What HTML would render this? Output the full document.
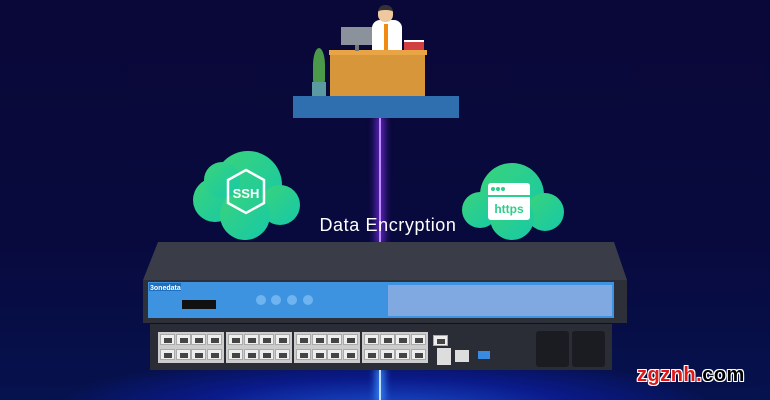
<!DOCTYPE html>
<html><head><meta charset="utf-8"><style>
*{margin:0;padding:0;box-sizing:border-box}
body{width:770px;height:400px;overflow:hidden;position:relative;font-family:"Liberation Sans",sans-serif;
background:radial-gradient(ellipse 420px 70px at 385px 410px,#1a4fd0 0%,#0a1a8a 45%,transparent 80%),linear-gradient(#0a0838 0%,#080a3e 60%,#06124e 100%)}
.a{position:absolute}
.port{position:absolute;width:15px;height:11px;background:#eee;border:1px solid #aaa}
.port::after{content:"";position:absolute;left:3px;top:3px;width:8px;height:5px;background:#444}
</style></head><body>
<div class="a" style="left:379px;top:118px;width:2px;height:124px;background:#c28cff;box-shadow:0 0 8px 3px #6a2ad0"></div>
<div class="a" style="left:379px;top:370px;width:2px;height:30px;background:#bfe0ff;box-shadow:0 0 8px 3px #3a8aff"></div>
<div class="a" style="left:293px;top:96px;width:166px;height:22px;background:#2f6fb0"></div>
<div class="a" style="left:330px;top:52px;width:95px;height:44px;background:#d8963a"></div>
<div class="a" style="left:329px;top:50px;width:98px;height:5px;background:#e9a445"></div>
<div class="a" style="left:341px;top:27px;width:31px;height:18px;background:#8c929c"></div>
<div class="a" style="left:355px;top:45px;width:4px;height:6px;background:#777"></div>
<div class="a" style="left:372px;top:20px;width:30px;height:30px;background:#fff;border-radius:8px 8px 0 0"></div>
<div class="a" style="left:384px;top:24px;width:4px;height:26px;background:#f08a10"></div>
<div class="a" style="left:378px;top:5px;width:15px;height:17px;background:#f0c8a0;border-radius:7px;border-top:5px solid #333"></div>
<div class="a" style="left:404px;top:40px;width:20px;height:10px;background:#d04040;border-top:2px solid #fff"></div>
<div class="a" style="left:313px;top:48px;width:12px;height:35px;background:#4a9a4a;border-radius:50% 50% 10% 10%"></div>
<div class="a" style="left:312px;top:82px;width:14px;height:14px;background:#5a9aa0"></div>
<svg class="a" style="left:0;top:0" width="770" height="400">
<defs><linearGradient id="g" x1="0" y1="0" x2="1" y2="1"><stop offset="0" stop-color="#3ad37a"/><stop offset="1" stop-color="#16c9a8"/></linearGradient></defs>
<g fill="url(#g)">
<circle cx="248" cy="185" r="34"/><circle cx="215" cy="200" r="22"/><circle cx="280" cy="205" r="20"/><circle cx="245" cy="215" r="25"/><circle cx="222" cy="180" r="18"/>
<circle cx="512" cy="195" r="32"/><circle cx="480" cy="210" r="18"/><circle cx="545" cy="212" r="19"/><circle cx="512" cy="218" r="22"/>
</g>
<polygon points="246,170 264,180 264,203 246,213 228,203 228,180" fill="none" stroke="#fff" stroke-width="2.5"/>
<text x="246" y="198" fill="#fff" font-family="Liberation Sans" font-weight="bold" font-size="13" text-anchor="middle">SSH</text>
<rect x="488" y="183" width="42" height="37" rx="3" fill="#fff"/>
<rect x="488" y="195" width="42" height="2" fill="#2bcf8a"/>
<circle cx="493" cy="189" r="2" fill="#2bcf8a"/><circle cx="498" cy="189" r="2" fill="#2bcf8a"/><circle cx="503" cy="189" r="2" fill="#2bcf8a"/>
<text x="509" y="213" fill="#2bcf8a" font-family="Liberation Sans" font-weight="bold" font-size="12" text-anchor="middle">https</text>
<text x="388" y="231" fill="#fff" font-family="Liberation Sans" font-size="18" text-anchor="middle" letter-spacing="0.6">Data Encryption</text>
<polygon points="158,242 614,242 627,280 143,280" fill="#3a3d48"/>
<polygon points="143,280 627,280 627,323 143,323" fill="#2d3039"/>
<rect x="150" y="324" width="462" height="46" fill="#2a2d35"/>
<rect x="148" y="282" width="466" height="36" fill="#3d93e0"/>
<rect x="388" y="285" width="224" height="31" fill="#7fa9e0"/>
<rect x="149" y="283" width="32" height="8" fill="#1e6fc0"/>
<text x="150" y="290" fill="#fff" font-size="7" font-weight="bold" font-family="Liberation Sans">3onedata</text>
<rect x="182" y="300" width="34" height="9" fill="#111"/>
<circle cx="261" cy="300" r="5" fill="#6fb4f0"/><circle cx="276" cy="300" r="5" fill="#6fb4f0"/><circle cx="292" cy="300" r="5" fill="#6fb4f0"/><circle cx="308" cy="300" r="5" fill="#6fb4f0"/>
<rect x="158" y="332" width="66" height="31" fill="#ccc"/><rect x="226" y="332" width="66" height="31" fill="#ccc"/><rect x="294" y="332" width="66" height="31" fill="#ccc"/><rect x="362" y="332" width="66" height="31" fill="#ccc"/>
<rect x="437" y="348" width="14" height="17" fill="#ddd"/><rect x="455" y="350" width="14" height="12" fill="#ddd"/>
<rect x="478" y="351" width="12" height="8" fill="#3a8ae0"/>
<rect x="536" y="331" width="33" height="36" rx="3" fill="#1a1c22"/><rect x="572" y="331" width="33" height="36" rx="3" fill="#1a1c22"/>
</svg>
<div id="ports"></div>
<script>
var h='';var gx=[160,228,296,364];
for(var g=0;g<4;g++)for(var i=0;i<4;i++)for(var r=0;r<2;r++){h+='<div class="port" style="left:'+(gx[g]+i*15.5)+'px;top:'+(334+r*15)+'px"></div>';}
h+='<div class="port" style="left:433px;top:335px"></div>';
document.getElementById('ports').innerHTML=h;
</script>
<div class="a" style="left:637px;top:364px;font:bold 20px 'Liberation Sans',sans-serif;letter-spacing:0.5px;text-shadow:1px 0 #fff,-1px 0 #fff,0 1px #fff,0 -1px #fff,1px 1px #fff,-1px -1px #fff,1px -1px #fff,-1px 1px #fff"><span style="color:#e01818">zgznh.</span><span style="color:#000">com</span></div>
</body></html>
